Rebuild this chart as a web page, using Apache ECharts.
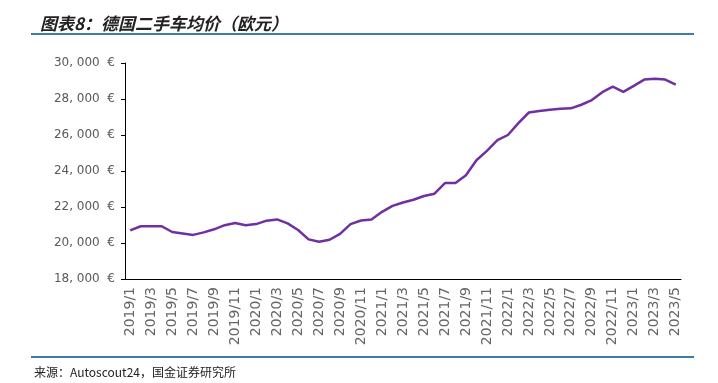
<!DOCTYPE html>
<html>
<head>
<meta charset="utf-8">
<script src="https://cdn.jsdelivr.net/npm/echarts@6/dist/echarts.min.js"></script>
<style>
  html, body { margin: 0; padding: 0; background: #fff; }
  #chart { width: 718px; height: 383px; }
</style>
</head>
<body>
<div id="chart"></div>
<script>
// monthly categories 2019/1 .. 2023/5
var years = [2019, 2020, 2021, 2022, 2023];
var months = [];
years.forEach(function(y) {
    var last = y === 2023 ? 5 : 12;
    for (var m = 1; m <= last; m++) {
        months.push(y + '/' + m);
    }
});

// average used car price in Germany, EUR
var price2019 = [20700, 20930, 20930, 20930, 20610, 20530, 20450, 20590, 20760, 20990, 21110, 20990];
var price2020 = [21050, 21240, 21310, 21090, 20720, 20200, 20070, 20180, 20510, 21050, 21250, 21310];
var price2021 = [21730, 22060, 22250, 22400, 22610, 22740, 23330, 23330, 23760, 24600, 25120, 25710];
var price2022 = [26000, 26660, 27250, 27330, 27400, 27460, 27480, 27680, 27940, 28380, 28690, 28400];
var price2023 = [28730, 29080, 29130, 29080, 28800];
var prices = price2019.concat(price2020, price2021, price2022, price2023);

var yMin = 18000;
var yMax = 30000;
var yStep = 2000;

var chart = echarts.init(document.getElementById('chart'));
var option = {
    animation: false,
    title: {
        text: '图表8：德国二手车均价（欧元）',
        left: 35,
        top: 10,
        textStyle: {
            fontFamily: 'Noto Sans CJK SC',
            fontSize: 17,
            fontWeight: 'bold',
            fontStyle: 'italic',
            color: '#222'
        }
    },
    graphic: [
        {
            type: 'line',
            shape: {x1: 31, y1: 34, x2: 694, y2: 34},
            style: {stroke: '#3E7CA3', lineWidth: 2}
        },
        {
            type: 'line',
            shape: {x1: 31, y1: 357, x2: 694, y2: 357},
            style: {stroke: '#3E7CA3', lineWidth: 2}
        },
        {
            type: 'text',
            left: 34,
            top: 366,
            style: {
                text: '来源：Autoscout24，国金证券研究所',
                font: '12px "Noto Sans CJK SC"',
                fill: '#222'
            }
        }
    ],
    grid: {
        left: 125,
        right: 37,
        top: 63,
        bottom: 104
    },
    xAxis: {
        type: 'category',
        data: months,
        boundaryGap: true,
        axisLine: {lineStyle: {color: '#000', width: 1}},
        axisTick: {
            interval: 1,
            length: 4,
            inside: true,
            lineStyle: {color: '#000'}
        },
        axisLabel: {
            interval: 1,
            rotate: 90,
            margin: 8,
            color: '#666',
            fontSize: 14,
            fontFamily: 'DejaVu Sans'
        }
    },
    yAxis: {
        type: 'value',
        min: yMin,
        max: yMax,
        interval: yStep,
        splitLine: {show: false},
        axisLine: {show: true, lineStyle: {color: '#000', width: 1}},
        axisTick: {show: true, length: 4, lineStyle: {color: '#000'}},
        axisLabel: {
            margin: 10,
            color: '#595959',
            fontSize: 12,
            fontFamily: 'DejaVu Sans',
            formatter: function(v) {
                return v.toLocaleString('en-US').replace(',', ', ') + '  €';
            }
        }
    },
    series: [
        {
            name: '均价',
            type: 'line',
            data: prices,
            symbol: 'none',
            lineStyle: {color: '#7030A0', width: 2.5}
        }
    ]
};
chart.setOption(option);
</script>
</body>
</html>
